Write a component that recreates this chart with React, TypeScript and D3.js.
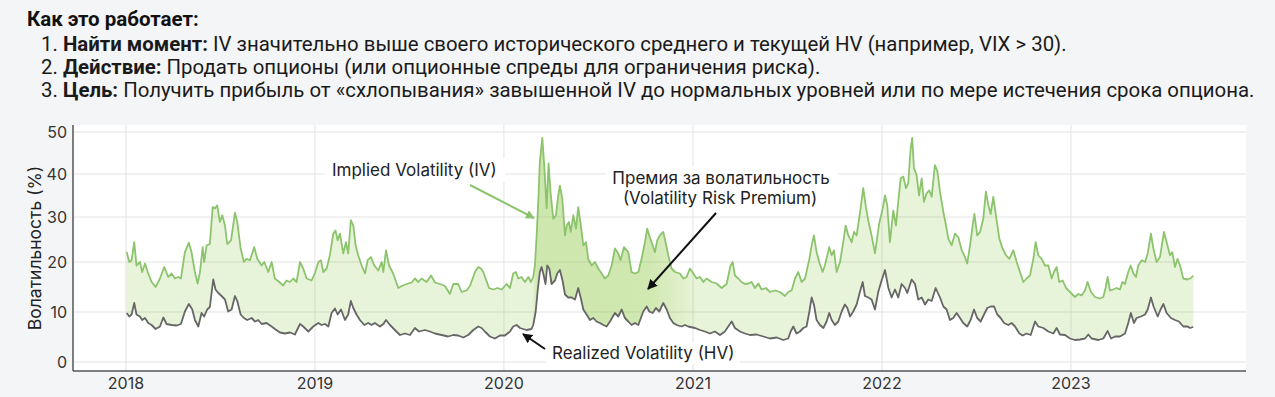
import React from 'react';
import * as d3 from 'd3';

const W = 1275;
const H = 397;

// oси
const yearTicks = [2018, 2019, 2020, 2021, 2022, 2023];
const volTicks = [0, 10, 20, 30, 40, 50];

// [год, %] — подразумеваемая волатильность
const ivSeries: [number, number][] = [
  [2018.004, 22.2], [2018.018, 20], [2018.030, 20.4], [2018.044, 24.4], [2018.056, 19.3], [2018.074, 20],
  [2018.086, 18], [2018.101, 19.7], [2018.118, 17.7], [2018.136, 16], [2018.157, 15], [2018.180, 16.7],
  [2018.203, 19], [2018.224, 17], [2018.242, 17.7], [2018.259, 16.7], [2018.277, 17], [2018.291, 16.7],
  [2018.312, 22.2], [2018.333, 24.3], [2018.347, 22.2], [2018.365, 18], [2018.379, 15.7], [2018.392, 18],
  [2018.406, 23.3], [2018.414, 20], [2018.427, 23.7], [2018.444, 24], [2018.459, 32.3], [2018.471, 32],
  [2018.483, 32.7], [2018.497, 28.9], [2018.510, 30.4], [2018.524, 28.1], [2018.536, 24], [2018.556, 24.8],
  [2018.577, 31], [2018.589, 28.9], [2018.607, 23], [2018.624, 20], [2018.638, 20.7], [2018.656, 20.4],
  [2018.679, 23.3], [2018.695, 20.7], [2018.718, 19.3], [2018.732, 20], [2018.753, 18], [2018.771, 20],
  [2018.788, 16.7], [2018.811, 16], [2018.832, 15.3], [2018.850, 16.3], [2018.868, 16], [2018.885, 16.7],
  [2018.903, 16], [2018.921, 20], [2018.938, 18.7], [2018.956, 16.7], [2018.982, 16.3],
  [2019.000, 17.8], [2019.018, 20], [2019.032, 20.4], [2019.044, 18], [2019.062, 18.7], [2019.079, 21.5],
  [2019.097, 26.3], [2019.109, 27], [2019.120, 24.8], [2019.132, 26.3], [2019.150, 21.9], [2019.164, 24.4],
  [2019.176, 21.9], [2019.190, 29.3], [2019.203, 28.1], [2019.215, 23.7], [2019.229, 21.5], [2019.247, 19.3],
  [2019.265, 17.7], [2019.279, 20.4], [2019.296, 21.1], [2019.314, 19.3], [2019.335, 18.3], [2019.353, 20],
  [2019.362, 18], [2019.376, 22.6], [2019.392, 19.3], [2019.414, 17.7], [2019.441, 14.8], [2019.459, 15.2],
  [2019.485, 15.6], [2019.511, 15.9], [2019.529, 16.7], [2019.547, 16], [2019.564, 16.7], [2019.591, 16],
  [2019.614, 17.3], [2019.635, 15.9], [2019.661, 15.6], [2019.688, 15.2], [2019.714, 13.6], [2019.732, 15.6],
  [2019.758, 15.6], [2019.776, 14], [2019.802, 14.3], [2019.820, 15.2], [2019.847, 18], [2019.864, 19],
  [2019.878, 18.7], [2019.891, 18], [2019.903, 16.7], [2019.921, 14.8], [2019.944, 14.5], [2019.966, 14.8],
  [2019.988, 14.5],
  [2020.014, 15.6], [2020.032, 14.8], [2020.049, 17.7], [2020.063, 18], [2020.076, 16.7], [2020.093, 17],
  [2020.111, 16], [2020.129, 17], [2020.143, 16], [2020.155, 17], [2020.164, 19.3], [2020.173, 25.9],
  [2020.182, 34], [2020.190, 42.9], [2020.203, 48.6], [2020.213, 42.1], [2020.226, 32], [2020.236, 42.5],
  [2020.247, 35.5], [2020.261, 29.6], [2020.275, 30.4], [2020.287, 35], [2020.296, 37.3], [2020.309, 34.2],
  [2020.323, 25.9], [2020.332, 28.1], [2020.344, 28.9], [2020.353, 26.7], [2020.367, 30.4], [2020.381, 27.4],
  [2020.393, 32.3], [2020.407, 28.1], [2020.420, 23.7], [2020.434, 24.4], [2020.446, 20.7], [2020.464, 19.3],
  [2020.481, 20], [2020.499, 18.7], [2020.517, 17.7], [2020.534, 16.7], [2020.552, 17.3], [2020.570, 19.3],
  [2020.587, 23], [2020.605, 21.9], [2020.617, 20.4], [2020.635, 23.3], [2020.658, 22.2], [2020.675, 18],
  [2020.693, 17.7], [2020.711, 18], [2020.728, 20.7], [2020.746, 24.4], [2020.758, 27.4], [2020.772, 25.5],
  [2020.787, 23.7], [2020.799, 22.2], [2020.811, 24.8], [2020.825, 25.9], [2020.843, 26.7], [2020.857, 24],
  [2020.869, 21.5], [2020.887, 18.7], [2020.905, 18], [2020.931, 17.7], [2020.949, 16.7], [2020.966, 17],
  [2020.984, 18.7],
  [2021.002, 17.7], [2021.019, 16.7], [2021.037, 17], [2021.055, 16], [2021.072, 16.7], [2021.099, 16],
  [2021.125, 15.7], [2021.152, 14.8], [2021.178, 15.6], [2021.199, 19.3], [2021.210, 20], [2021.222, 17.3],
  [2021.240, 16.7], [2021.257, 16], [2021.275, 15.6], [2021.293, 15.7], [2021.310, 16], [2021.328, 14.8],
  [2021.346, 15.7], [2021.363, 14.5], [2021.386, 14.8], [2021.407, 14], [2021.434, 14.3], [2021.460, 14],
  [2021.487, 13.2], [2021.504, 14], [2021.522, 14.3], [2021.540, 16.7], [2021.557, 18], [2021.575, 16],
  [2021.593, 16.7], [2021.616, 20.7], [2021.628, 23.7], [2021.640, 25.9], [2021.654, 22.2], [2021.668, 20],
  [2021.686, 18], [2021.698, 19.3], [2021.721, 23.3], [2021.734, 21.5], [2021.746, 22.6], [2021.760, 18],
  [2021.778, 20], [2021.795, 24.4], [2021.808, 28.1], [2021.822, 25.9], [2021.840, 24.4], [2021.852, 26.7],
  [2021.866, 25.9], [2021.884, 31.1], [2021.901, 36.7], [2021.915, 32.3], [2021.929, 28.9], [2021.945, 25.9],
  [2021.963, 21.9], [2021.985, 28.5],
  [2022.004, 32], [2022.016, 35], [2022.028, 32.7], [2022.042, 24.4], [2022.060, 31.5], [2022.074, 28.1],
  [2022.086, 33.5], [2022.099, 39], [2022.113, 39.4], [2022.127, 36.7], [2022.139, 37.9], [2022.152, 46.1],
  [2022.160, 48.6], [2022.169, 41.4], [2022.183, 39.8], [2022.196, 35], [2022.210, 39], [2022.222, 33.5],
  [2022.236, 35.5], [2022.250, 36.2], [2022.263, 34.7], [2022.280, 42.1], [2022.293, 40.7], [2022.307, 35.9],
  [2022.325, 31.1], [2022.339, 28.1], [2022.351, 25.2], [2022.369, 23.7], [2022.386, 26.3], [2022.404, 25.5],
  [2022.422, 22.6], [2022.439, 21.1], [2022.451, 19.7], [2022.466, 23.7], [2022.480, 28.1], [2022.489, 30.7],
  [2022.504, 25.9], [2022.519, 26.7], [2022.536, 29.6], [2022.550, 35.9], [2022.563, 32.7], [2022.575, 30.7],
  [2022.589, 34.7], [2022.603, 30.4], [2022.621, 25.2], [2022.638, 23], [2022.656, 21.5], [2022.674, 20.7],
  [2022.695, 22.6], [2022.713, 20], [2022.730, 18], [2022.748, 16], [2022.765, 16.7], [2022.783, 17.3],
  [2022.801, 20.7], [2022.813, 24.4], [2022.827, 21.5], [2022.845, 20.7], [2022.862, 19.3], [2022.880, 19.3],
  [2022.898, 16.7], [2022.910, 18], [2022.924, 19], [2022.938, 16], [2022.956, 16.3], [2022.974, 14.8],
  [2022.995, 14],
  [2023.021, 13], [2023.039, 13.6], [2023.056, 13.3], [2023.074, 14.3], [2023.088, 16], [2023.106, 14],
  [2023.127, 13], [2023.153, 12.7], [2023.171, 13], [2023.183, 14.8], [2023.194, 17], [2023.206, 14.3],
  [2023.224, 14.5], [2023.242, 14.8], [2023.259, 14.5], [2023.272, 16], [2023.286, 15.6], [2023.303, 18],
  [2023.316, 19.3], [2023.330, 17.7], [2023.344, 17], [2023.356, 19.3], [2023.374, 20.4], [2023.392, 20],
  [2023.406, 21.9], [2023.423, 26.3], [2023.436, 23], [2023.453, 20], [2023.471, 21.1], [2023.492, 26.7],
  [2023.506, 24.4], [2023.524, 21.5], [2023.536, 22.2], [2023.550, 19], [2023.564, 20.7], [2023.577, 19.3],
  [2023.594, 16.7], [2023.617, 16.5], [2023.635, 16.8], [2023.647, 17.3],
];

// [год, %] — реализованная волатильность
const hvSeries: [number, number][] = [
  [2018.004, 9.8], [2018.018, 9.1], [2018.030, 9.5], [2018.044, 11.8], [2018.056, 9.5], [2018.074, 9.1],
  [2018.086, 8.4], [2018.101, 8.8], [2018.118, 7.8], [2018.136, 7.4], [2018.157, 6.6], [2018.180, 7.1],
  [2018.198, 8.9], [2018.215, 7.6], [2018.242, 7.4], [2018.268, 7.3], [2018.291, 7.6], [2018.312, 10.1],
  [2018.333, 11.6], [2018.351, 10.5], [2018.365, 8.4], [2018.383, 7.1], [2018.400, 9.8], [2018.414, 9.1],
  [2018.430, 10.5], [2018.444, 11], [2018.462, 16.5], [2018.474, 14.5], [2018.489, 13.8], [2018.506, 13.2],
  [2018.524, 12.5], [2018.541, 10.1], [2018.559, 10.5], [2018.577, 13.2], [2018.589, 12.2], [2018.607, 9.5],
  [2018.624, 8.8], [2018.642, 8.4], [2018.665, 8.8], [2018.683, 8.1], [2018.700, 8.4], [2018.718, 7.6],
  [2018.744, 7.8], [2018.771, 7.1], [2018.788, 6.6], [2018.815, 5.9], [2018.841, 5.7], [2018.868, 5.9],
  [2018.894, 5.5], [2018.921, 7.6], [2018.938, 7.1], [2018.965, 6.1], [2018.991, 7.1],
  [2019.018, 7.8], [2019.035, 7.4], [2019.053, 7.6], [2019.071, 7.1], [2019.088, 9.8], [2019.106, 10.7],
  [2019.120, 9.5], [2019.138, 10.5], [2019.159, 8.4], [2019.176, 9.5], [2019.190, 12.2], [2019.203, 10.8],
  [2019.220, 9.5], [2019.238, 8.4], [2019.261, 7.4], [2019.282, 7.8], [2019.300, 7.4], [2019.317, 7.8],
  [2019.344, 7.1], [2019.362, 7.6], [2019.376, 8.4], [2019.397, 7.4], [2019.423, 6.4], [2019.450, 5.4],
  [2019.476, 5.7], [2019.503, 5.4], [2019.529, 6.8], [2019.550, 6.1], [2019.582, 6.4], [2019.608, 6.1],
  [2019.635, 5.7], [2019.670, 5.4], [2019.705, 5.1], [2019.732, 5.4], [2019.758, 5.3], [2019.785, 4.9],
  [2019.811, 5.4], [2019.838, 6.4], [2019.864, 7.1], [2019.882, 6.8], [2019.899, 6.1], [2019.926, 5.1],
  [2019.952, 4.7], [2019.979, 5.3],
  [2020.005, 5.3], [2020.032, 6.1], [2020.049, 7.1], [2020.067, 7.4], [2020.085, 6.8], [2020.102, 6.6],
  [2020.120, 6.4], [2020.146, 6.6], [2020.155, 7.4], [2020.168, 10.1], [2020.178, 14.1], [2020.190, 18],
  [2020.199, 19], [2020.208, 17.7], [2020.220, 15.6], [2020.229, 19.3], [2020.240, 18.7], [2020.252, 15.6],
  [2020.270, 16.3], [2020.282, 17.7], [2020.296, 18.4], [2020.310, 16.3], [2020.323, 13.5], [2020.340, 12.9],
  [2020.358, 12.9], [2020.376, 12.5], [2020.393, 14.8], [2020.406, 12.9], [2020.420, 10.5], [2020.437, 9.5],
  [2020.455, 8.4], [2020.473, 8.8], [2020.490, 8.1], [2020.508, 7.8], [2020.526, 7.4], [2020.543, 7.1],
  [2020.561, 8.1], [2020.587, 9.8], [2020.605, 9.1], [2020.623, 10.5], [2020.640, 8.8], [2020.658, 8.1],
  [2020.675, 7.4], [2020.693, 7.8], [2020.711, 7.4], [2020.737, 10.1], [2020.755, 11.1], [2020.769, 10.1],
  [2020.787, 9.8], [2020.804, 10.8], [2020.822, 10.1], [2020.843, 11.8], [2020.861, 10.5], [2020.878, 8.8],
  [2020.896, 7.8], [2020.914, 7.4], [2020.940, 7.1], [2020.958, 7.4], [2020.975, 7.1],
  [2021.011, 6.8], [2021.037, 6.4], [2021.063, 6.1], [2021.090, 5.7], [2021.116, 6.1], [2021.143, 5.4],
  [2021.169, 6.1], [2021.192, 7.4], [2021.205, 8.1], [2021.222, 6.8], [2021.249, 6.1], [2021.275, 5.7],
  [2021.302, 5.4], [2021.337, 5.5], [2021.372, 5.1], [2021.407, 4.7], [2021.443, 4.9], [2021.478, 4.4],
  [2021.504, 4.7], [2021.517, 6.1], [2021.531, 7.1], [2021.548, 5.7], [2021.566, 6.1], [2021.584, 6.8],
  [2021.601, 7.1], [2021.616, 10.1], [2021.628, 12.9], [2021.640, 11.5], [2021.654, 8.4], [2021.672, 7.4],
  [2021.690, 6.8], [2021.707, 8.1], [2021.721, 9.8], [2021.734, 8.4], [2021.751, 7.4], [2021.769, 8.1],
  [2021.787, 10.1], [2021.804, 11.5], [2021.817, 10.8], [2021.831, 9.1], [2021.848, 10.1], [2021.866, 11.5],
  [2021.884, 14.1], [2021.898, 16], [2021.910, 13.2], [2021.928, 12.9], [2021.945, 12.5], [2021.963, 10.5],
  [2021.981, 14.1], [2021.998, 16.3],
  [2022.016, 18.4], [2022.034, 14.8], [2022.051, 12.9], [2022.069, 14.5], [2022.086, 12.9], [2022.104, 15.6],
  [2022.122, 14.8], [2022.134, 13.8], [2022.157, 16.5], [2022.175, 15.6], [2022.192, 12.5], [2022.210, 12.9],
  [2022.228, 11.5], [2022.245, 12.5], [2022.263, 12.2], [2022.284, 14.8], [2022.307, 12.9], [2022.325, 11.1],
  [2022.342, 10.5], [2022.360, 8.4], [2022.377, 8.8], [2022.395, 9.8], [2022.413, 8.8], [2022.430, 7.8],
  [2022.451, 7.1], [2022.469, 8.4], [2022.487, 10.5], [2022.504, 8.8], [2022.522, 8.1], [2022.540, 9.5],
  [2022.557, 10.8], [2022.575, 11.1], [2022.593, 11.1], [2022.610, 9.5], [2022.628, 8.8], [2022.646, 7.8],
  [2022.668, 7.4], [2022.686, 7.8], [2022.704, 7.1], [2022.727, 5.7], [2022.744, 5.3], [2022.765, 5.7],
  [2022.787, 5.4], [2022.810, 8.1], [2022.827, 7.1], [2022.854, 6.8], [2022.880, 6.1], [2022.907, 5.7],
  [2022.924, 6.8], [2022.942, 5.5], [2022.968, 5.4], [2022.995, 4.7],
  [2023.021, 4.4], [2023.048, 4.5], [2023.074, 4.7], [2023.092, 5.5], [2023.109, 4.7], [2023.145, 4.4],
  [2023.171, 4.7], [2023.194, 6.2], [2023.212, 4.7], [2023.233, 5.1], [2023.259, 5.1], [2023.286, 5.7],
  [2023.303, 7.8], [2023.317, 9.8], [2023.333, 7.8], [2023.347, 8.8], [2023.370, 9.1], [2023.392, 9.5],
  [2023.406, 10.5], [2023.423, 12.9], [2023.437, 11.1], [2023.459, 9.1], [2023.474, 10.5], [2023.489, 11.6],
  [2023.506, 9.8], [2023.529, 8.8], [2023.550, 8.4], [2023.571, 8.1], [2023.594, 7.1], [2023.617, 7.1],
  [2023.630, 6.8], [2023.647, 7],
];

const premiumStart = 2020.15;
const premiumEnd = 2021.02;

const steps = [
  { num: '1. ', head: 'Найти момент:', body: ' IV значительно выше своего исторического среднего и текущей HV (например, VIX > 30).' },
  { num: '2. ', head: 'Действие:', body: ' Продать опционы (или опционные спреды для ограничения риска).' },
  { num: '3. ', head: 'Цель:', body: ' Получить прибыль от «схлопывания» завышенной IV до нормальных уровней или по мере истечения срока опциона.' },
];

const HEAD_FONT = 'Roboto, "Noto Sans", sans-serif';
const FONT = 'Inter, Roboto, sans-serif';
const IV_COLOR = '#8cc46e';
const HV_COLOR = '#666666';

const App: React.FC = () => {
  const left = 73;
  const right = 1246;
  const top = 125;
  const bottom = 371;

  const x = d3.scaleLinear().domain([2017.72, 2023.926]).range([left, right]);
  // шкала немного неравномерная, как на картинке
  const y = d3.scaleLinear().domain(volTicks).range([362, 312, 262, 217, 174, 132]);

  const line = d3.line<[number, number]>().x(d => x(d[0])).y(d => y(d[1])).curve(d3.curveLinear);
  const areaPts: [number, number][] = [...ivSeries, ...hvSeries.slice().reverse()];
  const areaPath = (line(areaPts) || '') + 'Z';

  return (
    <svg width={W} height={H} style={{ position: 'absolute', left: 0, top: 0, display: 'block' }}
      fontFamily={FONT}>
      <defs>
        <linearGradient id="premGrad" gradientUnits="userSpaceOnUse"
          x1={x(premiumStart)} x2={x(premiumEnd)} y1={0} y2={0}>
          <stop offset="0" stopColor="#8cc63f" stopOpacity={0} />
          <stop offset="0.03" stopColor="#8cc63f" stopOpacity={0.28} />
          <stop offset="0.72" stopColor="#8cc63f" stopOpacity={0.26} />
          <stop offset="1" stopColor="#8cc63f" stopOpacity={0} />
        </linearGradient>
        <marker id="arrGreen" viewBox="0 0 10 10" refX="9" refY="5" markerWidth="9" markerHeight="9"
          markerUnits="userSpaceOnUse" orient="auto">
          <path d="M0,0L10,5L0,10z" fill={IV_COLOR} />
        </marker>
        <marker id="arrBlack" viewBox="0 0 10 10" refX="9" refY="5" markerWidth="10" markerHeight="10"
          markerUnits="userSpaceOnUse" orient="auto">
          <path d="M0,0L10,5L0,10z" fill="#111" />
        </marker>
      </defs>

      <rect width={W} height={H} fill="#f4f5f7" />

      {/* заголовок */}
      <g fontFamily={HEAD_FONT}>
        <text x={27} y={26} fontSize={20.5} fontWeight={700} fill="#111">Как это работает:</text>
        {steps.map((s, i) => (
          <text key={i} x={41} y={51 + i * 23} fontSize={20.4} fill="#1a1a1a">
            <tspan>{s.num}</tspan>
            <tspan fontWeight={700}>{s.head}</tspan>
            <tspan>{s.body}</tspan>
          </text>
        ))}
      </g>

      {/* область графика */}
      <rect x={left} y={top} width={right - left} height={bottom - top} fill="#fff" />
      {volTicks.map(v => (
        <line key={'g' + v} x1={left} x2={right} y1={y(v)} y2={y(v)} stroke="#e3e3e3" strokeWidth={1} />
      ))}
      {yearTicks.map(t => (
        <line key={'v' + t} x1={x(t)} x2={x(t)} y1={top} y2={bottom} stroke="#e3e3e3" strokeWidth={1} />
      ))}

      <path d={areaPath} fill="#8cc63f" fillOpacity={0.2} />
      <path d={areaPath} fill="url(#premGrad)" />

      <path d={line(hvSeries) || ''} fill="none" stroke={HV_COLOR} strokeWidth={1.8} strokeLinejoin="round" />
      <path d={line(ivSeries) || ''} fill="none" stroke={IV_COLOR} strokeWidth={1.8} strokeLinejoin="round" />

      {/* оси */}
      <line x1={left} x2={left} y1={top} y2={bottom} stroke="#555" strokeWidth={1.5} />
      <line x1={left} x2={right} y1={bottom} y2={bottom} stroke="#555" strokeWidth={1.5} />
      {volTicks.map(v => (
        <text key={'yt' + v} x={67} y={y(v)} dy="0.36em" textAnchor="end" fontSize={16} fill="#333">{v}</text>
      ))}
      {yearTicks.map(t => (
        <text key={'xt' + t} x={x(t)} y={389} textAnchor="middle" fontSize={16} fill="#333">{t}</text>
      ))}
      <text transform="translate(41,248) rotate(-90)" textAnchor="middle" fontSize={17.5} fill="#222">
        Волатильность (%)
      </text>

      {/* подписи */}
      <rect x={325} y={158} width={180} height={24} fill="#fff" />
      <text x={332} y={176} fontSize={17} fill="#222">Implied Volatility (IV)</text>
      <line x1={470} y1={185} x2={534} y2={218} stroke={IV_COLOR} strokeWidth={2} markerEnd="url(#arrGreen)" />

      <rect x={606} y={166} width={232} height={42} fill="#fff" />
      <text x={721} y={184} textAnchor="middle" fontSize={17} fill="#222">Премия за волатильность</text>
      <text x={720} y={204} textAnchor="middle" fontSize={17} fill="#222">(Volatility Risk Premium)</text>
      <line x1={716} y1={213} x2={648} y2={289} stroke="#111" strokeWidth={2} markerEnd="url(#arrBlack)" />

      <rect x={546} y={342} width={194} height={22} fill="#fff" />
      <text x={552} y={359} fontSize={17} fill="#222">Realized Volatility (HV)</text>
      <line x1={545} y1={349} x2={523} y2={334} stroke="#111" strokeWidth={2} markerEnd="url(#arrBlack)" />
    </svg>
  );
};

export default App;
